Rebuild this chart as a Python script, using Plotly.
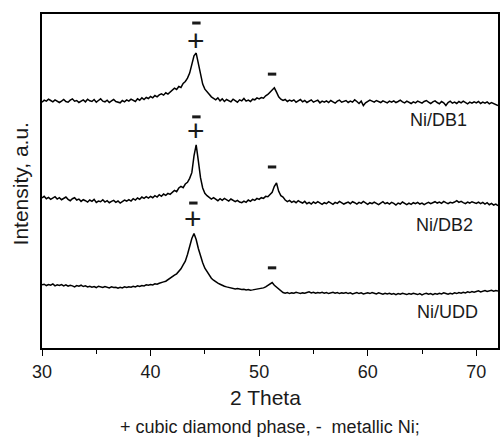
import numpy as np
import plotly.graph_objects as go

# 2-theta grid (degrees), 0.2 deg step
two_theta = [round(30 + 0.2 * i, 1) for i in range(211)]

ni_db1 = [
    73.6, 74.2, 73.9, 74.5, 74.1, 73.7, 74.3, 74.0, 73.5, 73.9,
    74.4, 73.8, 73.6, 74.2, 74.6, 73.9, 74.1, 73.5, 74.0, 74.3,
    73.7, 74.5, 74.0, 73.8, 74.4, 73.6, 74.1, 74.6, 73.9, 73.7,
    74.2, 73.5, 74.0, 74.4, 73.8, 73.6, 73.4, 74.1, 73.7, 74.3,
    73.9, 74.5, 74.1, 73.8, 74.6, 74.2, 74.9, 74.4, 75.0, 74.7,
    75.3, 74.9, 75.6, 75.2, 75.8, 76.1, 75.7, 76.4, 76.0, 76.7,
    77.2, 77.8, 77.4, 78.3, 78.0, 79.2, 79.8, 80.8, 82.3, 84.8,
    87.5, 88.3, 85.0, 81.5, 79.0, 77.5, 76.6, 76.0, 75.2, 74.8,
    74.3, 74.9, 74.0, 74.6, 73.8, 74.4, 74.1, 73.7, 74.5, 74.0,
    73.6, 74.3, 74.0, 74.7, 73.9, 74.2, 73.8, 74.5, 74.3, 74.9,
    74.6, 75.0, 74.8, 75.5, 75.9, 76.6, 77.3, 77.9, 76.6, 75.2,
    74.5, 74.1, 74.4, 73.8, 74.2, 73.9, 74.3, 73.6, 74.0, 74.4,
    73.7, 74.1, 73.5, 73.9, 74.3, 73.6, 73.8, 74.2, 73.4, 73.9,
    73.6, 74.0, 73.5, 74.1, 73.7, 73.3, 73.9, 74.2, 73.6, 73.8,
    74.1, 73.5, 73.9, 73.6, 74.3, 73.8, 73.2, 73.9, 72.6, 73.4,
    73.8, 74.2, 73.9, 73.6, 74.1, 73.8, 73.5, 74.0, 73.7, 73.4,
    73.9, 73.6, 74.0, 73.5, 73.8, 74.2, 73.7, 73.4, 73.9, 73.6,
    73.2, 73.7, 73.4, 73.9, 73.5, 73.3, 73.8, 74.1, 73.6, 73.2,
    73.7, 74.0, 73.5, 73.1, 73.8, 73.4, 72.6, 73.5, 73.9, 73.3,
    73.6, 73.2, 73.8, 73.4, 73.9, 73.5, 73.1, 73.6, 73.3, 73.7,
    73.4, 73.8, 73.2, 73.6, 73.3, 73.7, 73.1, 73.5, 73.2, 72.8,
    72.6,
]

ni_db2 = [
    44.9, 45.4, 44.7, 45.1, 44.5, 44.9, 45.3, 44.6, 45.0, 44.4,
    44.8, 45.2, 44.5, 44.1, 44.7, 45.0, 44.3, 44.6, 43.9, 44.4,
    44.1, 43.7, 44.3, 43.9, 44.5, 43.6, 44.0, 43.8, 44.4, 43.7,
    44.1, 43.5, 43.9, 44.2, 43.6, 44.0, 43.4, 43.8, 44.3, 44.0,
    44.4, 44.0, 44.7, 44.3, 44.9, 44.5, 45.2, 44.8, 45.3, 44.9,
    45.4, 45.0, 45.6, 45.2, 45.9, 45.4, 46.1, 45.7, 46.3, 46.0,
    46.6, 47.2, 46.8, 47.9, 48.4, 48.0, 49.1, 49.6, 50.8, 52.5,
    57.5, 60.8, 56.0, 51.0, 47.9, 46.3, 45.6, 45.1, 44.6, 45.0,
    44.5, 44.1, 44.7, 44.2, 44.8, 44.3, 44.0, 44.6, 44.1, 43.8,
    44.2, 43.7, 43.5, 44.0, 43.6, 44.3, 43.9, 44.5, 44.2, 44.8,
    44.5, 45.0, 44.8, 45.4, 45.3, 45.9, 46.6, 48.4, 49.4, 46.9,
    45.6, 45.2, 44.3, 43.8, 44.2, 43.6, 44.0, 43.5, 44.1, 43.7,
    43.4, 43.9, 43.2, 43.6, 43.1, 43.7, 43.3, 43.8, 43.4, 43.0,
    43.5, 43.2, 43.8, 43.4, 43.0, 43.6, 43.3, 43.9, 43.5, 43.1,
    43.4, 43.7, 43.2, 43.8, 43.5, 43.1, 43.6, 43.3, 43.9, 43.4,
    43.0, 43.5, 43.2, 43.7, 43.3, 42.9, 43.4, 43.8, 43.2, 43.5,
    43.1, 43.6, 43.3, 42.8, 43.4, 43.1, 43.7, 43.3, 42.9, 43.4,
    43.0, 43.5, 43.2, 43.6, 43.1, 43.4, 42.9, 43.3, 43.6, 43.2,
    43.5, 43.8, 43.4, 43.7, 43.3, 43.9, 43.5, 43.2, 43.6, 43.4,
    43.7, 44.1, 43.6, 43.9, 43.5, 43.2, 43.7, 43.4, 43.8, 43.5,
    43.3, 43.7, 43.2, 43.6, 43.1, 43.5, 42.9, 43.3, 42.8, 43.1,
    42.6,
]

ni_udd = [
    18.9, 19.1, 18.7, 19.0, 18.8, 19.2, 18.6, 18.9, 18.7, 19.0,
    18.6, 18.9, 18.5, 18.8, 18.6, 18.3, 18.7, 18.5, 18.8, 18.4,
    18.6, 18.3, 18.5, 18.2, 18.4, 18.1, 18.5, 18.3, 18.1, 18.4,
    18.2, 18.0, 18.3, 18.1, 18.2, 17.9, 18.2, 18.0, 18.3, 18.1,
    18.3, 18.2, 18.5, 18.3, 18.6, 18.4, 18.7, 18.6, 18.9, 18.8,
    19.0, 18.9, 19.2, 19.1, 19.4, 19.5, 19.8, 20.0, 20.5, 20.9,
    21.3, 21.8, 22.2, 22.8, 23.7, 24.9, 26.0, 28.0, 30.5, 32.8,
    34.3, 32.5, 29.8, 27.3, 25.5, 23.9, 22.8, 21.8, 20.9, 20.3,
    19.8, 19.4, 19.1, 18.7, 18.5, 18.3, 18.1, 18.0, 17.8, 17.7,
    17.8, 17.6, 17.5, 17.6, 17.4, 17.5, 17.3, 17.4, 17.5, 17.6,
    17.7, 17.9, 18.0, 18.3, 18.7, 19.0, 19.6, 18.8, 18.2, 17.5,
    16.9, 16.6, 16.4, 16.6, 16.3, 16.5, 16.4, 16.7, 16.5, 16.3,
    16.5, 16.4, 16.6, 16.8, 16.5, 16.7, 16.4, 16.6, 16.5, 16.7,
    16.4, 16.6, 16.3, 16.5, 16.7, 16.4, 16.6, 16.3, 16.5, 16.4,
    16.6, 16.3, 16.5, 16.2, 16.4, 16.6, 16.3, 16.5, 16.2, 16.4,
    16.5, 16.3, 16.6, 16.4, 16.2, 16.5, 16.3, 16.1, 16.4, 16.2,
    16.4, 16.1, 16.3, 16.0, 16.3, 16.1, 16.4, 16.2, 16.0, 16.3,
    16.1, 16.4, 16.2, 16.0, 16.3, 15.9, 16.2, 16.4, 16.1, 16.3,
    16.0, 16.3, 16.1, 16.4, 16.2, 16.5, 16.3, 16.1, 16.4, 16.2,
    16.5, 16.3, 16.6, 16.4, 16.7, 16.5, 16.8, 16.6, 16.9, 16.7,
    16.9, 17.1, 16.8, 17.0, 17.2, 16.9, 17.1, 17.3, 17.0, 17.2,
    17.1,
]

series_names = ["Ni/DB1", "Ni/DB2", "Ni/UDD"]
series_values = [ni_db1, ni_db2, ni_udd]
label_x = [66.5, 67.05, 67.35]
label_y = [68.3, 36.8, 10.8]

# "+" markers: cubic diamond phase
diamond_x = [44.22, 44.22, 43.94]
diamond_y = [92.2, 65.0, 38.9]
# "-" markers: metallic Ni
nickel_x = [44.22, 51.19, 44.22, 51.19, 43.94, 51.19]
nickel_y = [97.3, 82.0, 69.2, 54.2, 43.4, 24.0]

x_tick_vals = [30, 40, 50, 60, 70]
x_title = "2 Theta"
y_title = "Intensity, a.u."
footnote = "+ cubic diamond phase, -\u00a0 metallic Ni;"

FONT = "Liberation Sans, Arial, sans-serif"
INK = "#1a1a1a"

fig = go.Figure()
for name, vals in zip(series_names, series_values):
    fig.add_trace(go.Scatter(x=two_theta, y=vals, mode="lines", name=name,
                             line=dict(color="black", width=1.5),
                             showlegend=False, hoverinfo="skip"))

# metallic Ni "-" marks
fig.add_trace(go.Scatter(x=nickel_x, y=nickel_y, mode="markers", name="metallic Ni",
                         marker=dict(symbol="line-ew", size=6,
                                     line=dict(color=INK, width=3)),
                         showlegend=False, hoverinfo="skip"))

annotations = []
for name, lx, ly in zip(series_names, label_x, label_y):
    annotations.append(dict(x=lx, y=ly, xref="x", yref="y", text=name,
                            xanchor="center", yanchor="middle",
                            showarrow=False, font=dict(size=18, color=INK, family=FONT)))
for mx, my in zip(diamond_x, diamond_y):
    annotations.append(dict(x=mx, y=my, xref="x", yref="y", text="+",
                            xanchor="center", yanchor="middle",
                            showarrow=False, font=dict(size=30, color=INK, family=FONT)))

annotations.append(dict(x=(266 - 42) / 458, y=-0.1497, xref="paper", yref="paper",
                        xanchor="center", yanchor="middle",
                        text=x_title, showarrow=False,
                        font=dict(size=21, color=INK, family=FONT)))
annotations.append(dict(x=(271 - 42) / 458, y=-0.2365, xref="paper", yref="paper",
                        xanchor="center", yanchor="middle",
                        text=footnote, showarrow=False,
                        font=dict(size=18, color=INK, family=FONT)))
annotations.append(dict(x=(20 - 42) / 458, y=0.49, xref="paper", yref="paper",
                        xanchor="center", yanchor="middle",
                        text=y_title, showarrow=False, textangle=-90,
                        font=dict(size=21, color=INK, family=FONT)))

fig.update_layout(
    width=502, height=438,
    margin=dict(l=42, r=2, t=14, b=90),
    paper_bgcolor="white", plot_bgcolor="white",
    annotations=annotations,
    xaxis=dict(range=[30, 72], tickvals=x_tick_vals, ticks="outside", ticklen=6,
               tickwidth=1.4, tickcolor="black",
               minor=dict(dtick=5, tick0=30, ticks="outside", ticklen=4,
                          tickwidth=1.4, tickcolor="black"),
               showline=True, linecolor="black", linewidth=2, mirror=True,
               showgrid=False, zeroline=False,
               tickfont=dict(size=18, color=INK, family=FONT)),
    yaxis=dict(range=[0, 100], showticklabels=False, ticks="",
               showline=True, linecolor="black", linewidth=2, mirror=True,
               showgrid=False, zeroline=False),
)

fig.write_html("out.html")
